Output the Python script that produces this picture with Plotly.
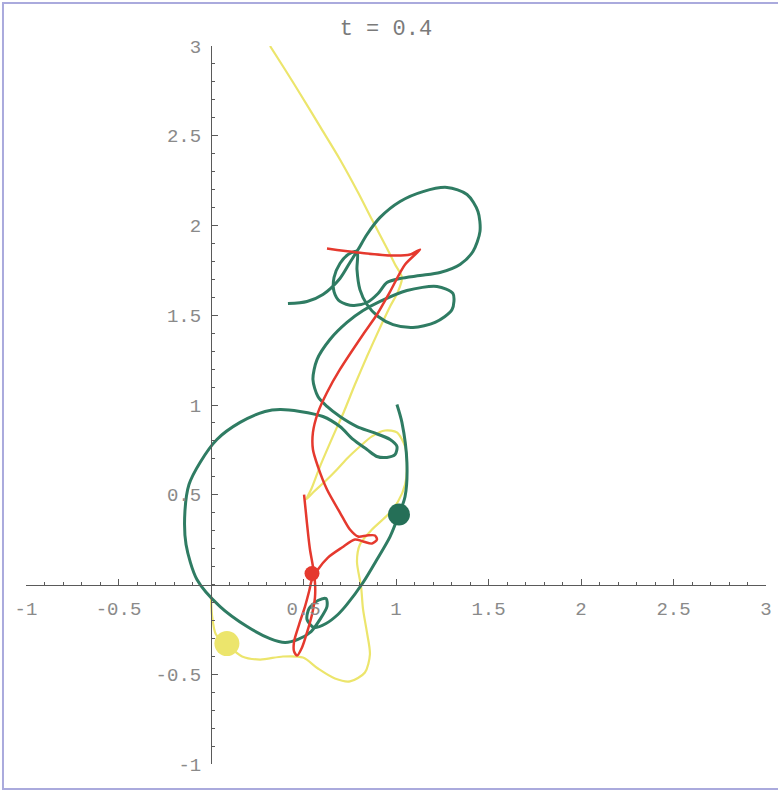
import plotly.graph_objects as go

# ---- data ----
title_text = "t = 0.4"

green_x = [1.005, 1.032, 1.059, 1.049, 1.016, 0.968, 0.897, 0.822, 0.735, 0.686, 0.622, 0.557, 0.519, 0.530,
           0.578, 0.622, 0.627, 0.589, 0.541, 0.470, 0.400, 0.319, 0.195, 0.049, -0.076, -0.135, -0.141, -0.119,
           -0.059, 0.032, 0.157, 0.292, 0.373, 0.481, 0.605, 0.697, 0.768, 0.843, 0.897, 0.951, 0.995, 1.005,
           0.968, 0.876, 0.789, 0.697, 0.627, 0.578, 0.551, 0.573, 0.643, 0.735, 0.822, 0.914, 1.059, 1.222,
           1.308, 1.303, 1.211, 1.092, 0.984, 0.903, 0.843, 0.805, 0.789, 0.789, 0.741, 0.697, 0.665, 0.665,
           0.697, 0.768, 0.843, 0.903, 0.951, 1.022, 1.130, 1.238, 1.346, 1.416, 1.454, 1.443, 1.384, 1.276,
           1.146, 1.022, 0.914, 0.843, 0.795, 0.751, 0.697, 0.605, 0.519, 0.416]
green_y = [1.003, 0.903, 0.680, 0.490, 0.390, 0.267, 0.139, 0.011, -0.111, -0.167, -0.217, -0.240, -0.195, -0.134,
           -0.089, -0.078, -0.123, -0.195, -0.262, -0.306, -0.323, -0.301, -0.234, -0.123, 0.028, 0.223, 0.407, 0.557,
           0.680, 0.808, 0.903, 0.964, 0.975, 0.964, 0.936, 0.880, 0.808, 0.752, 0.713, 0.708, 0.724, 0.769,
           0.808, 0.847, 0.880, 0.936, 0.992, 1.047, 1.142, 1.253, 1.365, 1.460, 1.526, 1.577, 1.638, 1.660,
           1.621, 1.532, 1.460, 1.432, 1.448, 1.493, 1.560, 1.643, 1.755, 1.855, 1.838, 1.788, 1.710, 1.632,
           1.577, 1.554, 1.571, 1.621, 1.682, 1.705, 1.721, 1.738, 1.783, 1.855, 1.967, 2.078, 2.173, 2.212,
           2.189, 2.134, 2.045, 1.950, 1.866, 1.794, 1.705, 1.616, 1.577, 1.565]

red_x = [0.627, 0.789, 0.968, 1.076, 1.130, 1.049, 0.968, 0.897, 0.822, 0.697, 0.627, 0.578, 0.551, 0.551,
         0.578, 0.627, 0.697, 0.751, 0.795, 0.843, 0.886, 0.897, 0.870, 0.822, 0.778, 0.708, 0.632, 0.578,
         0.546, 0.530, 0.508, 0.476, 0.449, 0.449, 0.465, 0.492, 0.519, 0.546, 0.562, 0.562, 0.551, 0.535,
         0.524, 0.514, 0.503]
red_y = [1.872, 1.850, 1.833, 1.838, 1.866, 1.783, 1.632, 1.504, 1.393, 1.198, 1.070, 0.958, 0.847, 0.752,
         0.657, 0.529, 0.401, 0.306, 0.267, 0.273, 0.273, 0.251, 0.228, 0.240, 0.251, 0.206, 0.150, 0.084,
         0.028, -0.039, -0.123, -0.223, -0.318, -0.373, -0.396, -0.351, -0.267, -0.167, -0.072, 0.011, 0.100, 0.195,
         0.290, 0.390, 0.501]

yellow_x = [0.319, 0.400, 0.484, 0.589, 0.697, 0.795, 0.870, 0.946, 0.995, 1.032, 1.011, 0.968, 0.914, 0.843,
            0.778, 0.719, 0.659, 0.589, 0.541, 0.514, 0.557, 0.616, 0.681, 0.741, 0.805, 0.870, 0.941, 1.005,
            1.049, 1.059, 1.049, 1.011, 0.957, 0.870, 0.805, 0.789, 0.811, 0.822, 0.843, 0.859, 0.832, 0.751,
            0.670, 0.578, 0.497, 0.389, 0.265, 0.168, 0.086, 0.027, 0.005, 0.000]
yellow_y = [3.000, 2.869, 2.730, 2.552, 2.368, 2.184, 2.033, 1.883, 1.783, 1.710, 1.632, 1.549, 1.432, 1.270,
            1.114, 0.964, 0.825, 0.657, 0.529, 0.474, 0.518, 0.574, 0.641, 0.708, 0.769, 0.825, 0.858, 0.847,
            0.769, 0.669, 0.557, 0.462, 0.390, 0.306, 0.223, 0.128, -0.011, -0.139, -0.267, -0.390, -0.490, -0.540,
            -0.524, -0.468, -0.407, -0.401, -0.418, -0.401, -0.334, -0.279, -0.167, -0.061]

dots_x = [0.086, 1.016, 0.546]
dots_y = [-0.329, 0.390, 0.061]

tick_vals = [-1, -0.5, 0.5, 1, 1.5, 2, 2.5, 3]
tick_text = ["-1", "-0.5", "0.5", "1", "1.5", "2", "2.5", "3"]

# ---- styles ----
GREEN = "#2f7c63"
RED = "#e5392e"
YELLOW = "#ece56c"
AXIS = "#5a5a5a"
LABEL = "#8a8a8a"
MONO = "Liberation Mono, DejaVu Sans Mono, monospace"

fig = go.Figure()
fig.add_trace(go.Scatter(x=yellow_x, y=yellow_y, mode="lines",
                         line=dict(color=YELLOW, width=2.2, shape="spline", smoothing=0.8),
                         hoverinfo="skip", showlegend=False))
fig.add_trace(go.Scatter(x=green_x, y=green_y, mode="lines",
                         line=dict(color=GREEN, width=3, shape="spline", smoothing=0.8),
                         hoverinfo="skip", showlegend=False))
fig.add_trace(go.Scatter(x=red_x, y=red_y, mode="lines",
                         line=dict(color=RED, width=2.5, shape="spline", smoothing=0.8),
                         hoverinfo="skip", showlegend=False))
fig.add_trace(go.Scatter(x=dots_x, y=dots_y, mode="markers",
                         marker=dict(color=[YELLOW, "#256f57", RED], size=[25, 22, 15], opacity=1,
                                     line=dict(width=0)),
                         hoverinfo="skip", showlegend=False, cliponaxis=False))

axis_common = dict(
    showgrid=False, zeroline=False, showline=True, linecolor=AXIS, linewidth=1,
    ticks="inside", ticklen=6, tickwidth=1, tickcolor=AXIS,
    tickvals=tick_vals, ticktext=tick_text,
    tickfont=dict(family=MONO, size=19, color=LABEL),
    minor=dict(dtick=0.1, tick0=0, ticks="inside", ticklen=3, tickwidth=1, tickcolor=AXIS),
    range=[-1, 3], anchor="free", position=0.25, fixedrange=True, automargin=False,
)
fig.update_layout(
    width=778, height=794,
    margin=dict(l=26, r=12, t=46, b=30, autoexpand=False),
    paper_bgcolor="white", plot_bgcolor="rgba(0,0,0,0)",
    xaxis=dict(axis_common, ticklabelstandoff=7),
    yaxis=dict(axis_common, ticklabelstandoff=6),
    title=dict(text=title_text, x=0.496, xanchor="center", y=0.966, yanchor="middle",
               font=dict(family=MONO, size=22, color="#7a7a7a"), automargin=False),
    shapes=[dict(type="rect", xref="paper", yref="paper", x0=-0.0311, x1=1.06, y0=-0.0348, y1=1.0599,
                 line=dict(color="#aaaadd", width=2), fillcolor="rgba(0,0,0,0)", layer="below")],
)
fig.write_html("out.html", config={"displayModeBar": False},
               post_script="document.body.style.margin='0px';document.body.style.overflow='hidden';")
